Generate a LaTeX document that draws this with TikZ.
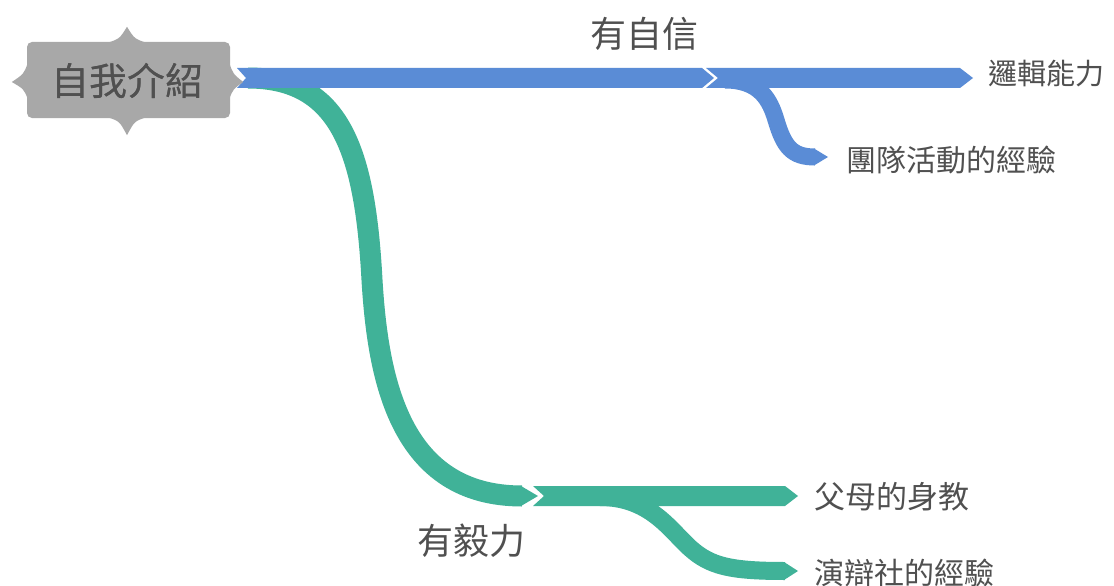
\documentclass[tikz,border=0pt]{standalone}
\usepackage{fontspec}
\newfontfamily\cjk{Noto Sans CJK TC}
\usetikzlibrary{calc}
\definecolor{barblue}{RGB}{90,140,214}
\definecolor{bargreen}{RGB}{64,178,152}
\definecolor{nodegray}{RGB}{168,168,168}
\definecolor{txtgray}{RGB}{80,80,80}
\tikzset{
  lbl/.style={inner sep=0pt, text=txtgray, font=\cjk\fontsize{#1}{#1}\selectfont},
  greenband/.style={draw=bargreen, line width=21pt},
  greenthin/.style={draw=bargreen, line width=18pt},
  blueband/.style={draw=barblue, line width=17pt},
}
\begin{document}
\begin{tikzpicture}[x=1pt,y=-1pt]
\useasboundingbox[fill=white] (0,0) rectangle (1114,586);

% central node
\node[inner sep=0pt, minimum width=203pt, minimum height=76pt, rounded corners=5pt, fill=nodegray] (root) at (128.5,80) {};
\node[lbl=38] (roottxt) at (127.5,81) {自我介紹};

% named coordinates
\coordinate (gs) at (248,78);
\coordinate (gm) at (372,280);
\coordinate (ge) at (522,496);
\coordinate (g2s) at (533,486);
\coordinate (gb) at (600,497);
\coordinate (gbm) at (690,548);
\coordinate (gbe) at (785,571);
\coordinate (bs) at (237,68);
\coordinate (b2s) at (706,68);
\coordinate (bb) at (725,80);
\coordinate (bbm) at (776,120);
\coordinate (bbe) at (815,157);

% labels
\node[lbl=36] (conf) at (644,34) {有自信};
\node[lbl=29, anchor=west] (logic) at (988,74) {邏輯能力};
\node[lbl=30, anchor=west] (team) at (846,160) {團隊活動的經驗};
\node[lbl=31, anchor=west] (parent) at (814,497) {父母的身教};
\node[lbl=30, anchor=west] (debate) at (814,573) {演辯社的經驗};
\node[lbl=36] (pers) at (471,541) {有毅力};

% green main branch
\draw[greenband] (gs) .. controls (340,78) and (365,150) .. (gm)
                      .. controls (378,380) and (400,496) .. (ge);
\fill[bargreen] ($(ge)+(-1,-10)$) -- ($(ge)+(16,0)$) -- ($(ge)+(-1,10)$) -- cycle;
\fill[bargreen] (g2s) -- ++(252,0) -- ++(13,10) -- ++(-13,10) -- ++(-252,0) -- ++(11,-10) -- cycle;
\draw[greenthin] (gb) .. controls (650,497) and (670,530) .. (gbm)
                      .. controls (710,566) and (730,571) .. (gbe);
\fill[bargreen] ($(gbe)+(-1,-9)$) -- ($(gbe)+(13,0)$) -- ($(gbe)+(-1,9)$) -- cycle;

% blue branch
\fill[barblue] (bs) -- (702,68) -- (714,78) -- (702,88) -- (237,88) -- (246,78) -- cycle;
\fill[barblue] (b2s) -- (960,68) -- (973,78) -- (960,88) -- (706,88) -- (718,78) -- cycle;
\draw[blueband] (bb) .. controls (760,80) and (770,100) .. (bbm)
                     .. controls (784,147) and (792,157) .. (bbe);
\fill[barblue] ($(bbe)+(-1,-8.5)$) -- ($(bbe)+(13,0)$) -- ($(bbe)+(-1,8.5)$) -- cycle;

% spikes of central node
\fill[nodegray] ($(root.north)+(-21,1)$) .. controls ($(root.north)+(-9,-3)$) .. ($(root.north)+(-1.5,-15)$)
   .. controls ($(root.north)+(6,-3)$) .. ($(root.north)+(18,1)$) -- cycle;
\fill[nodegray] ($(root.south)+(-21,-1)$) .. controls ($(root.south)+(-9,3)$) .. ($(root.south)+(-1.5,17)$)
   .. controls ($(root.south)+(6,3)$) .. ($(root.south)+(18,-1)$) -- cycle;
\fill[nodegray] ($(root.west)+(1,-17)$) .. controls ($(root.west)+(-3,-6)$) .. ($(root.west)+(-15,2)$)
   .. controls ($(root.west)+(-3,9)$) .. ($(root.west)+(1,19)$) -- cycle;
\fill[nodegray] ($(root.east)+(-1,-17)$) .. controls ($(root.east)+(3,-6)$) .. ($(root.east)+(13,2)$)
   .. controls ($(root.east)+(3,9)$) .. ($(root.east)+(-1,19)$) -- cycle;
\node[lbl=38] at (roottxt) {自我介紹};
\end{tikzpicture}
\end{document}
